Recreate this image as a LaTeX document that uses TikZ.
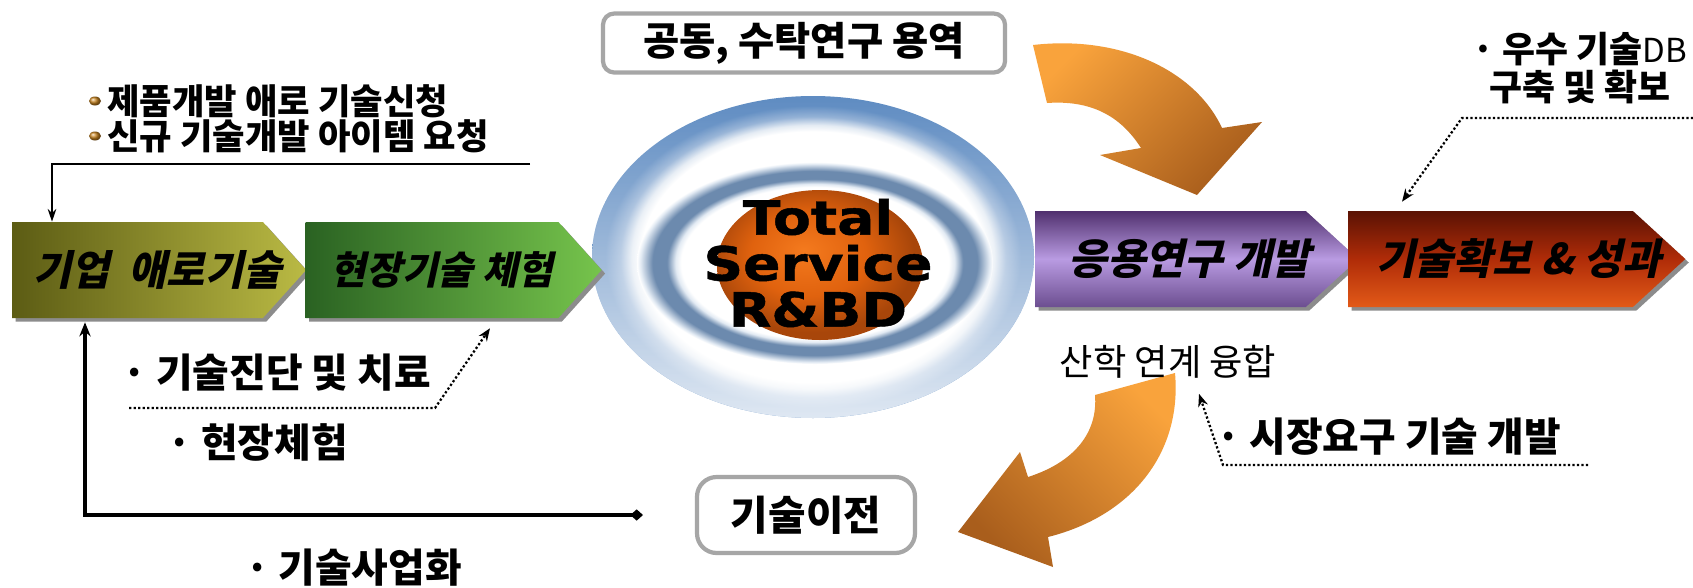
\documentclass[tikz,border=0pt]{standalone}
\usepackage{fontspec}
\newfontfamily\krfont{Noto Sans CJK KR}
\newfontfamily\krslant{Noto Sans CJK KR}[FakeSlant=0.22]
\newfontfamily\corefont{DejaVu Sans}[FakeStretch=1.17, FakeBold=1]
\usetikzlibrary{shapes.symbols,shadows,arrows.meta,calc,fadings}

\definecolor{ringblue}{HTML}{5F8CC2}
\definecolor{ringmid}{HTML}{8FAED4}
\definecolor{ringpale}{HTML}{E2EAF3}
\definecolor{steelring}{HTML}{6C8AAE}
\definecolor{orangehi}{HTML}{F47A1E}
\definecolor{orangemid}{HTML}{E0620E}
\definecolor{orangedark}{HTML}{A8460A}
\definecolor{swooshlight}{HTML}{F9A33C}
\definecolor{swooshdark}{HTML}{A95E1C}
\definecolor{olivedark}{HTML}{5C5C14}
\definecolor{olivelight}{HTML}{BABA44}
\definecolor{greendark}{HTML}{2A6222}
\definecolor{greenlight}{HTML}{76C44C}
\definecolor{purpledark}{HTML}{50306E}
\definecolor{purplelight}{HTML}{B99BE2}
\definecolor{purplelow}{HTML}{6C4E90}
\definecolor{rustdark}{HTML}{5A1204}
\definecolor{rustmid}{HTML}{B02C08}
\definecolor{rustlight}{HTML}{E25A18}
\definecolor{framegray}{HTML}{A6A6A6}
\definecolor{bulletbrown}{HTML}{C88420}

\pgfdeclareradialshading{outerring}{\pgfpointorigin}{color(0bp)=(white); color(19.5bp)=(white); color(20.5bp)=(ringpale); color(21.8bp)=(ringmid); color(23.5bp)=(ringblue); color(50bp)=(ringblue)}
\pgfdeclareradialshading{innerring}{\pgfpointorigin}{color(0bp)=(white); color(18.8bp)=(white); color(19.6bp)=(ringpale); color(20.8bp)=(steelring); color(22.8bp)=(steelring); color(24.5bp)=(ringpale); color(25bp)=(white); color(50bp)=(white)}
\pgfdeclareradialshading{coreball}{\pgfpoint{-4bp}{5bp}}{color(0bp)=(orangehi); color(14bp)=(orangemid); color(25bp)=(orangedark); color(50bp)=(orangedark)}

\newcommand{\pxu}{0.025cm}
\newcommand{\fs}[1]{\fontsize{#1}{#1}\selectfont}
\newcommand{\nudge}[2]{\hspace*{#1}#2\hspace*{-#1}}

\tikzset{
  chevron/.style={shape=signal, signal to=east, signal pointer angle=#1, minimum height=96*\pxu,
    inner sep=0pt, general shadow={fill=black!45, shadow xshift=2.5pt, shadow yshift=-2.5pt},
    font=\krslant\bfseries\fs{29.5}},
  chevron/.default=96,
  roundbox/.style={draw=framegray, line width=3pt, rounded corners=8pt, fill=white, inner sep=0pt},
  note/.style={font=\krfont\bfseries\fs{28.3}, inner sep=0pt},
  flow/.style={line width=2.3pt},
  dotlink/.style={line width=1.6pt, dash pattern=on 1.6pt off 1.6pt, -{Stealth[length=9pt,width=7pt]}}
}

\begin{document}
\begin{tikzpicture}[x=0.025cm, y=-0.025cm, >={Stealth[length=9pt,width=6pt]}]
\useasboundingbox (0,0) rectangle (1693,587);
\fill[white] (0,0) rectangle (1693,587);

\shade[shading=outerring] (813,257) ellipse (221 and 161);
\fill[white, path fading=north, fill opacity=.8] (813,257) ellipse (221 and 161);
\shade[shading=innerring] (815,263) ellipse (178 and 101);
\shade[shading=coreball] (820,265) ellipse (103 and 75);
\node[font=\corefont\bfseries\fontsize{33.5}{32.7}\selectfont, align=center, inner sep=0pt] (core) at (818,263) {Total\\Service\\R\&BD};

\shade[top color=swooshlight, bottom color=swooshdark, shading angle=45] (1033,45) .. controls (1120,35) and (1195,70) .. (1222,128) -- (1262,122) -- (1197,195) -- (1100,155) -- (1141,148) .. controls (1120,115) and (1090,100) .. (1047,103) -- cycle;
\shade[top color=swooshlight, bottom color=swooshdark, shading angle=-45] (1095,395) -- (1175,373) .. controls (1182,450) and (1135,515) .. (1048,537) -- (1053,567) -- (958,532) -- (1020,452) -- (1028,477) .. controls (1075,462) and (1098,432) .. (1095,395) -- cycle;

\node[chevron, left color=olivedark, right color=olivelight, minimum width=294*\pxu] (ent) at (137.5,270) {\nudge{0.5cm}{기업\ \ 애로기술}};
\node[chevron, left color=greendark, right color=greenlight, minimum width=296*\pxu, font=\krslant\bfseries\fs{27.5}] (field) at (432,270) {\nudge{0.25cm}{현장기술 체험}};
\node[chevron=85, top color=purpledark, bottom color=purplelow, middle color=purplelight, minimum width=323*\pxu, font=\krslant\bfseries\fs{30}] (apply) at (1170.5,259) {\nudge{0.475cm}{응용연구 개발}};
\node[chevron=85, top color=rustdark, bottom color=rustlight, middle color=rustmid, minimum width=319*\pxu, font=\krslant\bfseries\fs{30}] (result) at (1490.5,259) {\nudge{0.7cm}{기술확보 \& 성과}};

\node[roundbox, minimum width=402*\pxu, minimum height=59*\pxu, font=\krfont\bfseries\fs{28}] (joint) at (804,43) {공동, 수탁연구 용역};
\node[roundbox, rounded corners=14pt, minimum width=218*\pxu, minimum height=76*\pxu, font=\krfont\bfseries\fs{29}] (transfer) at (806,515) {기술이전};

\shade[ball color=bulletbrown] (95,101) ellipse (6 and 4.5);
\shade[ball color=bulletbrown] (95,136) ellipse (6 and 4.5);
\node[note, font=\krfont\bfseries\fs{25.1}, anchor=west] (req1) at (107,101) {제품개발 애로 기술신청};
\node[note, font=\krfont\bfseries\fs{25.1}, anchor=west] (req2) at (107,136) {신규 기술개발 아이템 요청};
\node[note, anchor=east] (diag) at (431,373) {· 기술진단 및 치료};
\node[note, anchor=east] (onsite) at (348,442) {· 현장체험};
\node[note, anchor=east] (biz) at (462,568) {· 기술사업화};
\node[note, anchor=east] (market) at (1561,437) {· 시장요구 기술 개발};
\node[note, font=\krfont\bfseries\fs{25.5}, align=center] (db) at (1580,68) {· 우수 기술{\mdseries\fs{23.5}DB}\\[2pt]구축 및 확보};
\node[font=\krfont\fs{25.8}, inner sep=0pt] (link) at (1168,362) {산학 연계 융합};

\coordinate (reqend) at (530,164);
\draw[line width=1.6pt, ->] (reqend) -| ($(ent.north)+(-85.5,0)$);
\coordinate (tfend) at (643,515);
\draw[flow, {Diamond[length=9pt,width=8pt]}-{Stealth[length=10pt,width=8pt]}] (tfend) -| ($(ent.south)+(-52.5,4)$);
\coordinate (diagstart) at (129,408);
\draw[dotlink] (diagstart) -- ++(306,0) -- ($(field.south)+(58,10)$);
\coordinate (dbstart) at (1693,118);
\draw[dotlink] (dbstart) -- ++(-231,0) -- ($(result.north)+(-88.5,-9)$);
\coordinate (mktstart) at (1588,465);
\draw[dotlink] (mktstart) -- ++(-365,0) -- ($(link.south)+(31,15)$);
\end{tikzpicture}
\end{document}
